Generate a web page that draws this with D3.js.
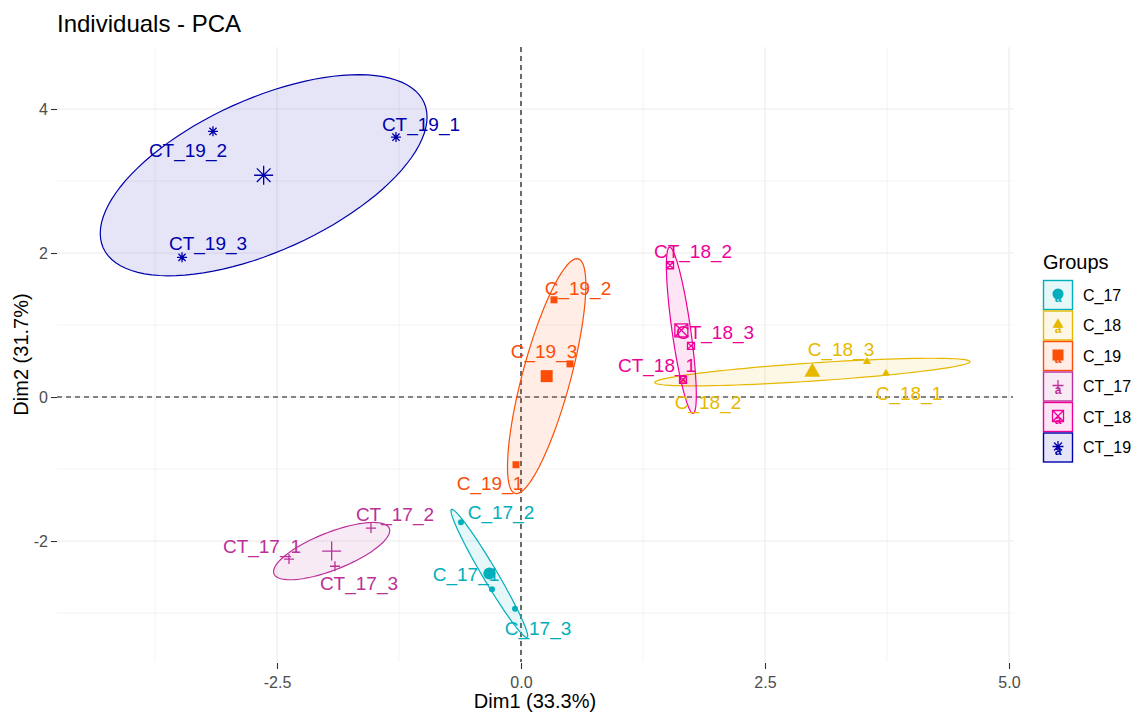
<!DOCTYPE html>
<html>
<head>
<meta charset="utf-8">
<script src="https://cdn.jsdelivr.net/npm/d3@7"></script>
<style>
  body { margin: 0; background: #fff; }
  text { font-family: "Liberation Sans", Arial, sans-serif; }
</style>
</head>
<body>
<div class="chart"></div>
<script>
// groups, their colours and point shapes
const groups = ["C_17", "C_18", "C_19", "CT_17", "CT_18", "CT_19"];
const groupColors = ["#00AFBB", "#E7B800", "#FC4E07", "#BB3099", "#EE0099", "#0000AC"];
const groupShapes = ["circle", "triangle", "square", "plus", "boxcross", "asterisk"];

// individuals
const names = ["C_17_1", "C_17_2", "C_17_3",
               "C_18_1", "C_18_2", "C_18_3",
               "C_19_1", "C_19_2", "C_19_3",
               "CT_17_1", "CT_17_2", "CT_17_3",
               "CT_18_1", "CT_18_2", "CT_18_3",
               "CT_19_1", "CT_19_2", "CT_19_3"];
const nameGroup = ["C_17", "C_17", "C_17", "C_18", "C_18", "C_18", "C_19", "C_19", "C_19",
                   "CT_17", "CT_17", "CT_17", "CT_18", "CT_18", "CT_18", "CT_19", "CT_19", "CT_19"];
const dim1 = [-0.297, -0.615, -0.061,
              3.740, 1.670, 3.545,
              -0.051, 0.338, 0.502,
              -2.377, -1.537, -1.906,
              1.660, 1.527, 1.742,
              -1.281, -3.156, -3.473];
const dim2 = [-2.67, -1.74, -2.94,
              0.33, 0.22, 0.49,
              -0.94, 1.35, 0.46,
              -2.25, -1.82, -2.35,
              0.24, 1.83, 0.71,
              3.61, 3.69, 1.94];

// label nudges in px (repelled labels)
const labelDx = [-26, 40, 23, 23, 24, -26, -26, 24, -26, -27, 24, 24, -26, 23, 24, 25, -25, 26];
const labelDy = [-15, -10, 19, 20, 21, -13, 18, -12, -13, -13, -14, 17, -15, -14, -14, -13, 19, -14];

const xTicks = [-2.5, 0, 2.5, 5];
const yTicks = [-2, 0, 2, 4];
const xMinor = [-3.75, -1.25, 1.25, 3.75];
const yMinor = [-3, -1, 1, 3];

const w = 1137;
const h = 713;
const panel = { left: 57, right: 1013, top: 47, bottom: 662 };
const ellipseLevel = 0.95;

const x = d3.scaleLinear().domain([-4.754, 5.041]).range([panel.left, panel.right]);
const y = d3.scaleLinear().domain([-3.68, 4.861]).range([panel.bottom, panel.top]);
const color = d3.scaleOrdinal().domain(groups).range(groupColors);
const shape = d3.scaleOrdinal().domain(groups).range(groupShapes);

const svg = d3.select(".chart").append("svg")
    .attr("width", w)
    .attr("height", h);

svg.append("rect").attr("width", w).attr("height", h).attr("fill", "#fff");

// grid
const grid = svg.append("g");
grid.selectAll(".vminor").data(xMinor).enter().append("line")
    .attr("x1", d => x(d)).attr("x2", d => x(d))
    .attr("y1", panel.top).attr("y2", panel.bottom)
    .attr("stroke", "#EBEBEB").attr("stroke-width", 0.6);
grid.selectAll(".hminor").data(yMinor).enter().append("line")
    .attr("y1", d => y(d)).attr("y2", d => y(d))
    .attr("x1", panel.left).attr("x2", panel.right)
    .attr("stroke", "#EBEBEB").attr("stroke-width", 0.6);
grid.selectAll(".vmajor").data(xTicks).enter().append("line")
    .attr("x1", d => x(d)).attr("x2", d => x(d))
    .attr("y1", panel.top).attr("y2", panel.bottom)
    .attr("stroke", "#EBEBEB").attr("stroke-width", 1.1);
grid.selectAll(".hmajor").data(yTicks).enter().append("line")
    .attr("y1", d => y(d)).attr("y2", d => y(d))
    .attr("x1", panel.left).attr("x2", panel.right)
    .attr("stroke", "#EBEBEB").attr("stroke-width", 1.1);

// axes
const xAxis = svg.append("g")
    .attr("transform", "translate(0," + (panel.bottom + 1) + ")")
    .call(d3.axisBottom(x).tickValues(xTicks).tickSize(6).tickPadding(8)
        .tickFormat(d => d.toFixed(1)));
const yAxis = svg.append("g")
    .attr("transform", "translate(" + panel.left + ",0)")
    .call(d3.axisLeft(y).tickValues(yTicks).tickSize(6).tickPadding(3)
        .tickFormat(d => String(d)));
[xAxis, yAxis].forEach(a => {
  a.select(".domain").remove();
  a.selectAll("line").attr("stroke", "#333").attr("stroke-width", 1.1);
  a.selectAll("text").attr("fill", "#4D4D4D").style("font-size", "16px")
      .style("font-family", "'Liberation Sans', Arial, sans-serif");
});

// reference lines
svg.append("line")
    .attr("x1", x(0)).attr("x2", x(0)).attr("y1", panel.top).attr("y2", panel.bottom)
    .attr("stroke", "#111").attr("stroke-width", 1.2).attr("stroke-dasharray", "5,4");
svg.append("line")
    .attr("y1", y(0)).attr("y2", y(0)).attr("x1", panel.left).attr("x2", panel.right)
    .attr("stroke", "#111").attr("stroke-width", 1.2).attr("stroke-dasharray", "5,4");

// points table
const pts = names.map((n, i) => ({ name: n, group: nameGroup[i], x: dim1[i], y: dim2[i], dx: labelDx[i], dy: labelDy[i] }));
const byGroup = d3.group(pts, d => d.group);

// confidence ellipse of the group mean
const r = Math.sqrt(-2 * Math.log(1 - ellipseLevel));
function ellipse(list) {
  const n = list.length;
  const mx = d3.mean(list, d => d.x), my = d3.mean(list, d => d.y);
  let sxx = 0, syy = 0, sxy = 0;
  list.forEach(d => { sxx += (d.x - mx) ** 2; syy += (d.y - my) ** 2; sxy += (d.x - mx) * (d.y - my); });
  sxx /= (n - 1) * n; syy /= (n - 1) * n; sxy /= (n - 1) * n;
  const r11 = Math.sqrt(sxx), r12 = sxy / r11, r22 = Math.sqrt(Math.max(syy - r12 * r12, 0));
  return d3.range(0, 101).map(k => {
    const t = 2 * Math.PI * k / 100;
    return [mx + r * Math.cos(t) * r11, my + r * (Math.cos(t) * r12 + Math.sin(t) * r22)];
  });
}

const line = d3.line().x(d => x(d[0])).y(d => y(d[1]));
svg.append("g").selectAll("path")
    .data(groups)
    .enter().append("path")
    .attr("d", g => line(ellipse(byGroup.get(g))) + "Z")
    .attr("fill", g => color(g)).attr("fill-opacity", 0.1)
    .attr("stroke", g => color(g)).attr("stroke-width", 1.2);

function shapePath(type, s) {
  const a = s / 2;
  if (type === "circle") return d3.arc()({ innerRadius: 0, outerRadius: a, startAngle: 0, endAngle: 2 * Math.PI });
  if (type === "triangle") { const hh = s * 0.866; return `M0,${-hh * 2 / 3}L${a},${hh / 3}L${-a},${hh / 3}Z`; }
  if (type === "square") return `M${-a},${-a}H${a}V${a}H${-a}Z`;
  if (type === "plus") return `M${-a},0H${a}M0,${-a}V${a}`;
  if (type === "boxcross") return `M${-a},${-a}H${a}V${a}H${-a}ZM${-a},${-a}L${a},${a}M${a},${-a}L${-a},${a}`;
  const b = a * 0.72;
  return `M${-a},0H${a}M0,${-a}V${a}M${-b},${-b}L${b},${b}M${b},${-b}L${-b},${b}`;
}
const filled = t => t === "circle" || t === "triangle" || t === "square";

function drawShape(sel, g, s) {
  const t = shape(g);
  sel.append("path")
      .attr("d", shapePath(t, s))
      .attr("fill", filled(t) ? color(g) : "none")
      .attr("stroke", filled(t) ? "none" : color(g))
      .attr("stroke-width", 1.3);
}

// individual points
const pointSize = { circle: 6, triangle: 8, square: 7, plus: 10, boxcross: 7, asterisk: 10 };
svg.append("g").selectAll("g")
    .data(pts)
    .enter().append("g")
    .attr("transform", d => "translate(" + x(d.x) + "," + y(d.y) + ")")
    .each(function(d) { drawShape(d3.select(this), d.group, pointSize[shape(d.group)]); });

// labels
svg.append("g").selectAll("text")
    .data(pts)
    .enter().append("text")
    .attr("x", d => x(d.x) + d.dx)
    .attr("y", d => y(d.y) + d.dy)
    .attr("dy", "0.36em")
    .attr("text-anchor", "middle")
    .attr("fill", d => color(d.group))
    .style("font-size", "19px")
    .text(d => d.name);

// group means
const meanSize = { circle: 12, triangle: 16, square: 12, plus: 19, boxcross: 13, asterisk: 19 };
svg.append("g").selectAll("g")
    .data(groups)
    .enter().append("g")
    .attr("transform", g => {
      const l = byGroup.get(g);
      return "translate(" + x(d3.mean(l, d => d.x)) + "," + y(d3.mean(l, d => d.y)) + ")";
    })
    .each(function(g) { drawShape(d3.select(this), g, meanSize[shape(g)]); });

// titles
svg.append("text").attr("x", 57).attr("y", 32).style("font-size", "24px").attr("fill", "#000")
    .text("Individuals - PCA");
svg.append("text").attr("x", (panel.left + panel.right) / 2).attr("y", 708)
    .attr("text-anchor", "middle").style("font-size", "20px").attr("fill", "#000")
    .text("Dim1 (33.3%)");
svg.append("text").attr("transform", "translate(28," + (panel.top + panel.bottom) / 2 + ") rotate(-90)")
    .attr("text-anchor", "middle").style("font-size", "20px").attr("fill", "#000")
    .text("Dim2 (31.7%)");

// legend
const legend = svg.append("g").attr("transform", "translate(1043,0)");
legend.append("text").attr("x", 0).attr("y", 269).style("font-size", "20px").attr("fill", "#000")
    .text("Groups");
const key = legend.selectAll(".key")
    .data(groups)
    .enter().append("g")
    .attr("transform", (g, i) => "translate(0," + (280 + i * 30.5) + ")");
key.append("rect")
    .attr("x", 0.5).attr("y", 0.5).attr("width", 29).attr("height", 29)
    .attr("fill", g => color(g)).attr("fill-opacity", 0.1)
    .attr("stroke", g => color(g)).attr("stroke-width", 1.4);
key.append("text")
    .attr("x", 15).attr("y", 22).attr("text-anchor", "middle")
    .style("font-size", "12px").style("font-weight", "bold")
    .attr("fill", g => color(g)).text("a");
key.append("g").attr("transform", "translate(15,14)")
    .each(function(g) { drawShape(d3.select(this), g, 11); });
key.append("text")
    .attr("x", 40).attr("y", 15).attr("dy", "0.36em")
    .style("font-size", "16px").attr("fill", "#000")
    .text(g => g);
</script>
</body>
</html>
